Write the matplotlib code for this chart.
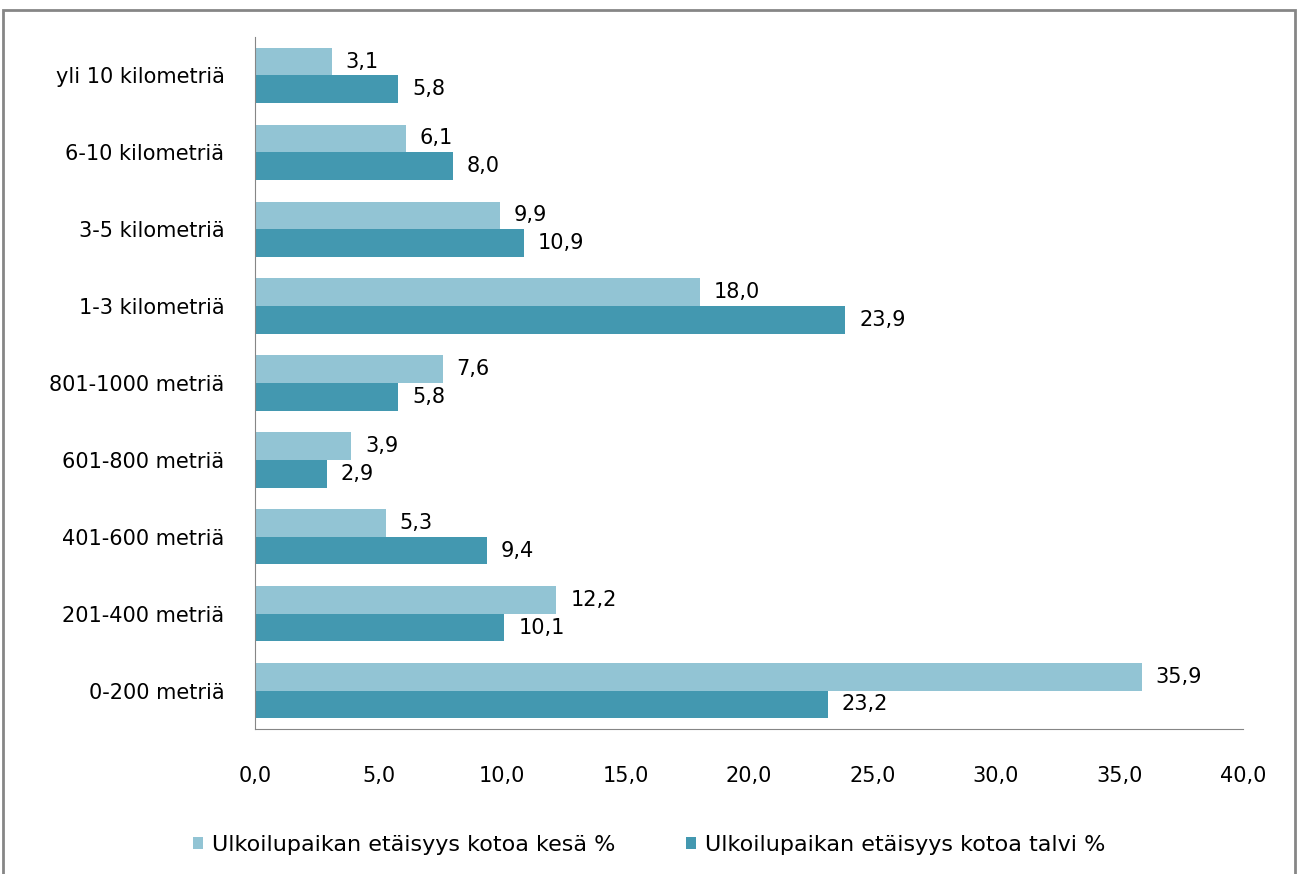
import matplotlib
matplotlib.use("Agg")
import matplotlib.pyplot as plt
import numpy as np
from matplotlib.patches import Rectangle

categories = ["0-200 metriä", "201-400 metriä", "401-600 metriä", "601-800 metriä",
              "801-1000 metriä", "1-3 kilometriä", "3-5 kilometriä", "6-10 kilometriä",
              "yli 10 kilometriä"]
kesa = [35.9, 12.2, 5.3, 3.9, 7.6, 18.0, 9.9, 6.1, 3.1]
talvi = [23.2, 10.1, 9.4, 2.9, 5.8, 23.9, 10.9, 8.0, 5.8]
xticks = [0, 5, 10, 15, 20, 25, 30, 35, 40]

c_kesa = "#92c4d4"
c_talvi = "#4398b0"

plt.rcParams["font.family"] = "DejaVu Sans"

fig = plt.figure(figsize=(12.98, 8.74), dpi=100)
ax = fig.add_axes([255 / 1298, 1 - 729 / 874, (1243 - 255) / 1298, (729 - 37) / 874])

y = np.arange(len(categories))
h = 0.36
b1 = ax.barh(y + h / 2, kesa, height=h, color=c_kesa, label="Ulkoilupaikan etäisyys kotoa kesä %")
b2 = ax.barh(y - h / 2, talvi, height=h, color=c_talvi, label="Ulkoilupaikan etäisyys kotoa talvi %")

def fmt(v):
    return f"{v:.1f}".replace(".", ",")

for bars, vals in ((b1, kesa), (b2, talvi)):
    for r, v in zip(bars, vals):
        ax.annotate(fmt(v), (v, r.get_y() + r.get_height() / 2), xytext=(10, 0),
                    textcoords="offset points", va="center", ha="left", fontsize=15)

ax.set_xlim(0, 40)
ax.set_ylim(-0.5, len(categories) - 0.5)
ax.set_xticks(xticks)
ax.set_xticklabels([fmt(t) for t in xticks], fontsize=15)
ax.set_yticks(y)
ax.set_yticklabels(categories, fontsize=15)
ax.tick_params(length=0)
ax.tick_params(axis="x", pad=27)
ax.tick_params(axis="y", pad=22)
for s in ("top", "right"):
    ax.spines[s].set_visible(False)
for s in ("left", "bottom"):
    ax.spines[s].set_color("#868686")

fig.legend(handles=[b1, b2], loc="center", bbox_to_anchor=(0.5, 1 - 845 / 874), ncol=2,
           frameon=False, fontsize=16, handlelength=0.45, handleheight=0.45,
           columnspacing=3.2, handletextpad=0.4)

fig.patches.append(Rectangle((3 / 1298, -0.05), (1295 - 3) / 1298, 1.05 - 10 / 874,
                             transform=fig.transFigure, fill=False, edgecolor="#868686", lw=2))

fig.savefig("out.png", dpi=100)
